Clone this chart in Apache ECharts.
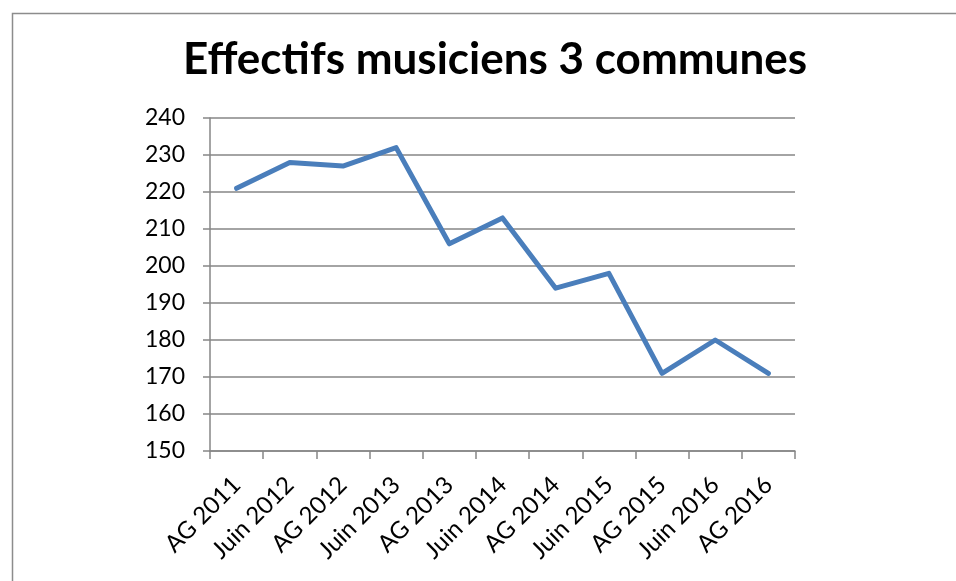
<!DOCTYPE html>
<html>
<head>
<meta charset="utf-8">
<script src="https://cdn.jsdelivr.net/npm/echarts@6/dist/echarts.min.js"></script>
<style>
  html, body { margin: 0; padding: 0; background: #fff; }
  #main { width: 956px; height: 581px; }
</style>
</head>
<body>
<div id="main"></div>
<script>
// categories & values
const categories = ["AG 2011", "Juin 2012", "AG 2012", "Juin 2013", "AG 2013", "Juin 2014",
  "AG 2014", "Juin 2015", "AG 2015", "Juin 2016", "AG 2016"];
const effectifs = [221, 228, 227, 232, 206, 213, 194, 198, 171, 180, 171];

const myChart = echarts.init(document.getElementById("main"));

const gridGray = "#868686";

const option = {
  animation: false,
  title: {
    text: "Effectifs musiciens 3 communes",
    left: 490,
    textAlign: "center",
    top: 33,
    textStyle: {
      fontFamily: "Lato",
      fontWeight: "bold",
      fontSize: 44,
      color: "#000"
    }
  },
  graphic: [
    {
      type: "rect",
      left: 10,
      top: 11,
      shape: { width: 980, height: 620 },
      style: { fill: "none", stroke: "#8c8c8c", lineWidth: 1.5 },
      silent: true
    }
  ],
  grid: {
    left: 210,
    right: 161,
    top: 118,
    bottom: 130
  },
  xAxis: {
    type: "category",
    data: categories,
    boundaryGap: true,
    axisLine: { lineStyle: { color: gridGray, width: 1.5 } },
    axisTick: { show: true, length: 8, lineStyle: { color: gridGray, width: 1.5 } },
    axisLabel: {
      interval: 0,
      rotate: 45,
      margin: 30,
      fontFamily: "Lato",
      fontSize: 24,
      color: "#000"
    }
  },
  yAxis: {
    type: "value",
    min: 150,
    max: 240,
    interval: 10,
    axisLine: { show: true, lineStyle: { color: gridGray, width: 1.5 } },
    axisTick: { show: true, length: 7, lineStyle: { color: gridGray, width: 1.5 } },
    axisLabel: {
      margin: 25,
      fontFamily: "Lato",
      fontSize: 23,
      color: "#000"
    },
    splitLine: { lineStyle: { color: gridGray, width: 1.5 } }
  },
  series: [
    {
      name: "Effectifs",
      type: "line",
      data: effectifs,
      symbol: "none",
      lineStyle: { color: "#4a7ebb", width: 5, join: "round", cap: "round" }
    }
  ]
};

myChart.setOption(option);
</script>
</body>
</html>
